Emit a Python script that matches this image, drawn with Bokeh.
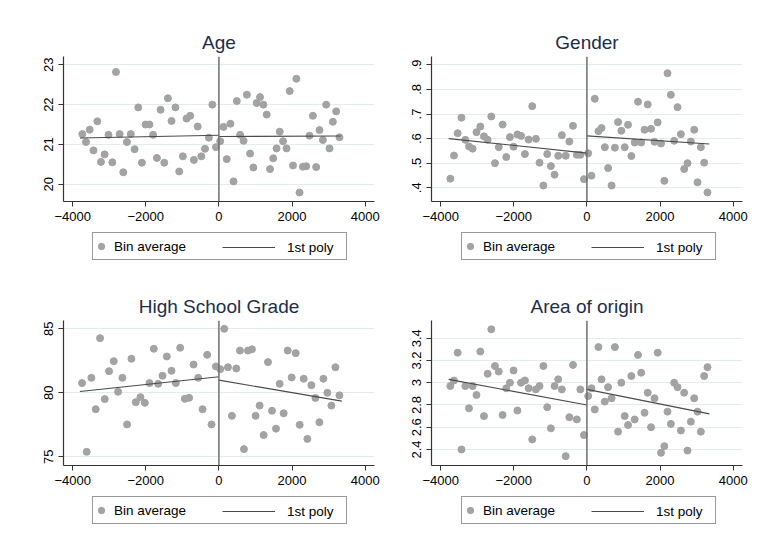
from bokeh.plotting import figure
from bokeh.models import Range1d, FixedTicker, Span, Legend, LegendItem
from bokeh.layouts import column, row
from bokeh.embed import file_html
from bokeh.resources import INLINE

FONT = "Liberation Sans"

# ---------------- data ----------------
x_ticks = [-4000, -2000, 0, 2000, 4000]

# bins shared by Age, Gender and Area of origin
bins_left_x = [-3735, -3635, -3535, -3430, -3325, -3225, -3125, -3020, -2915, -2815,
               -2715, -2615, -2515, -2410, -2305, -2205, -2105, -2005, -1900, -1800,
               -1695, -1595, -1495, -1395, -1295, -1190, -1085, -985, -885, -785,
               -685, -580, -480, -380, -275, -180, -80]
bins_right_x = [35, 125, 215, 315, 400, 490, 580, 675, 765, 852, 942, 1034, 1125, 1216,
                1307, 1398, 1485, 1576, 1663, 1754, 1849, 1936, 2027, 2118, 2205, 2296,
                2387, 2478, 2570, 2660, 2751, 2843, 2934, 3025, 3116, 3207, 3298]

# Age
age_left = [21.26, 21.06, 21.37, 20.85, 21.58, 20.56, 20.75, 21.24, 20.55, 22.82, 21.26,
            20.30, 21.06, 21.26, 20.88, 21.93, 20.54, 21.50, 21.50, 21.24, 20.66, 21.87,
            20.54, 22.16, 21.59, 21.93, 20.32, 20.70, 21.65, 21.72, 20.61, 21.45, 20.70,
            20.89, 21.17, 22.00, 20.93]
age_right = [21.08, 21.44, 20.63, 21.52, 20.07, 22.09, 21.24, 21.09, 22.25, 20.77, 20.42,
             22.04, 22.19, 22.00, 21.75, 20.38, 20.65, 20.90, 21.32, 21.08, 20.90, 22.34,
             20.47, 22.65, 19.79, 20.44, 20.45, 21.22, 21.72, 20.43, 21.36, 21.11, 22.00,
             20.90, 21.57, 21.83, 21.18]
age_fit_left_x, age_fit_left_y = [-3800, 0], [21.16, 21.23]
age_fit_right_x, age_fit_right_y = [0, 3330], [21.20, 21.21]
age_yticks = [20, 21, 22, 23]
age_ylabels = ["20", "21", "22", "23"]

# Gender
gender_left = [0.437, 0.531, 0.622, 0.685, 0.595, 0.568, 0.559, 0.626, 0.649, 0.609,
               0.595, 0.690, 0.500, 0.565, 0.657, 0.525, 0.606, 0.567, 0.617, 0.611,
               0.537, 0.596, 0.732, 0.599, 0.502, 0.409, 0.537, 0.488, 0.453, 0.530,
               0.614, 0.530, 0.588, 0.652, 0.534, 0.534, 0.435]
gender_right = [0.540, 0.449, 0.762, 0.630, 0.643, 0.565, 0.480, 0.409, 0.563, 0.667,
                0.632, 0.565, 0.656, 0.529, 0.584, 0.750, 0.584, 0.636, 0.739, 0.640,
                0.587, 0.666, 0.580, 0.428, 0.866, 0.778, 0.591, 0.728, 0.618, 0.476,
                0.500, 0.588, 0.636, 0.422, 0.565, 0.502, 0.381]
gender_fit_left_x, gender_fit_left_y = [-3780, 0], [0.600, 0.541]
gender_fit_right_x, gender_fit_right_y = [0, 3350], [0.611, 0.578]
gender_yticks = [0.4, 0.5, 0.6, 0.7, 0.8, 0.9]
gender_ylabels = [".4", ".5", ".6", ".7", ".8", ".9"]

# High School Grade (different binning)
hsg_left_x = [-3743, -3615, -3488, -3369, -3250, -3122, -3004, -2876, -2757, -2639, -2511,
              -2392, -2273, -2146, -2027, -1899, -1781, -1662, -1543, -1424, -1296, -1178,
              -1059, -931, -813, -694, -566, -447, -320, -201, -82]
hsg_left = [80.76, 75.39, 81.17, 78.72, 84.27, 79.51, 81.69, 82.47, 80.08, 81.17, 77.53,
            82.66, 79.27, 79.66, 79.22, 80.76, 83.44, 80.70, 81.33, 82.84, 81.72, 80.76,
            83.52, 79.53, 79.61, 82.21, 81.17, 78.72, 82.97, 77.53, 82.06]
hsg_right_x = [37, 146, 247, 356, 475, 575, 685, 794, 904, 1004, 1114, 1223, 1342, 1452,
               1561, 1662, 1771, 1881, 1990, 2100, 2209, 2319, 2419, 2529, 2639, 2748,
               2858, 2967, 3077, 3186, 3296]
hsg_right = [81.85, 85.0, 82.0, 78.2, 81.9, 83.3, 75.6, 83.3, 83.4, 78.2, 79.0, 76.7, 82.4,
             78.6, 77.2, 80.7, 78.4, 83.3, 81.2, 83.1, 77.5, 81.1, 76.4, 80.6, 79.6, 77.7,
             81.1, 80.0, 79.0, 82.0, 79.8]
hsg_fit_left_x, hsg_fit_left_y = [-3800, 0], [80.10, 81.25]
hsg_fit_right_x, hsg_fit_right_y = [0, 3360], [80.99, 79.35]
hsg_yticks = [75, 80, 85]
hsg_ylabels = ["75", "80", "85"]

# Area of origin
area_left = [2.97, 3.02, 3.27, 2.40, 2.97, 2.77, 2.97, 2.89, 3.28, 2.70, 3.08, 3.48, 3.15,
             3.10, 2.71, 2.95, 3.00, 3.11, 2.75, 3.00, 3.02, 2.95, 2.49, 2.94, 2.97, 3.15,
             2.78, 2.59, 2.97, 3.03, 2.94, 2.34, 2.69, 3.16, 2.67, 2.94, 2.53]
area_right = [2.88, 2.95, 2.76, 3.32, 3.03, 2.83, 2.96, 2.86, 3.32, 2.56, 3.00, 2.70, 2.62,
              3.06, 2.67, 3.25, 3.09, 2.73, 2.91, 2.60, 2.86, 3.27, 2.37, 2.43, 2.74, 2.63,
              3.00, 2.96, 2.57, 2.91, 2.39, 2.65, 2.86, 2.74, 2.56, 3.06, 3.14]
area_fit_left_x, area_fit_left_y = [-3780, 0], [3.03, 2.80]
area_fit_right_x, area_fit_right_y = [0, 3350], [2.94, 2.72]
area_yticks = [2.4, 2.6, 2.8, 3.0, 3.2, 3.4]
area_ylabels = ["2.4", "2.6", "2.8", "3", "3.2", "3.4"]

legend_labels = ["Bin average", "1st poly"]

# ---------------- styling ----------------
PT = "#a3a3a3"
LN = "#4a4a4a"
AX = "#333333"
GRID = "#e4ecf0"
TITLE = "#1c2e4a"


def make_plot(title, xs, ys, flx, fly, frx, fry, y_range, yticks, ylabels,
              width, height, bl, bt):
    p = figure(width=width, height=height, output_backend="svg", toolbar_location=None,
               x_range=Range1d(-4250, 4255), y_range=Range1d(*y_range),
               min_border_left=bl, min_border_right=14, min_border_top=bt,
               min_border_bottom=29, background_fill_color="white",
               border_fill_color="white")
    p.outline_line_color = None
    p.title.text = title
    p.title.align = "center"
    p.title.text_font = FONT
    p.title.text_font_size = "19px"
    p.title.text_font_style = "normal"
    p.title.text_color = TITLE
    p.title.standoff = 8

    p.xaxis.ticker = FixedTicker(ticks=x_ticks)
    p.yaxis.ticker = FixedTicker(ticks=yticks)
    p.yaxis.major_label_overrides = {t: l for t, l in zip(yticks, ylabels)}
    p.yaxis.major_label_orientation = "vertical"
    for ax in (p.xaxis, p.yaxis):
        ax.minor_tick_line_color = None
        ax.major_tick_in = 0
        ax.major_tick_out = 5
        ax.axis_line_color = AX
        ax.axis_line_width = 1.2
        ax.major_tick_line_color = AX
        ax.major_label_text_font = FONT
        ax.major_label_text_font_size = "13px"
        ax.major_label_text_color = "black"
        ax.major_label_standoff = 5
    p.xgrid.visible = False
    p.ygrid.ticker = FixedTicker(ticks=yticks)
    p.ygrid.grid_line_color = GRID
    p.ygrid.grid_line_width = 1

    p.add_layout(Span(location=0, dimension="height", line_color="#707070",
                      line_width=1.5))

    p.scatter(xs, ys, size=7, fill_color=PT, line_color=PT)
    p.line(flx, fly, line_color=LN, line_width=1.1)
    p.line(frx, fry, line_color=LN, line_width=1.1)
    return p


def make_legend(width, bl, box_left, xs, ys, fx, fy):
    f = figure(width=width, height=42, output_backend="svg", toolbar_location=None,
               title=None, x_axis_location=None, y_axis_location=None,
               min_border_left=bl, min_border_right=14, min_border_top=0,
               min_border_bottom=0, background_fill_color="white",
               border_fill_color="white")
    f.grid.visible = False
    f.outline_line_color = None
    # legend keys: hidden copies of the panel's renderers
    key_pts = f.scatter(xs, ys, size=7, fill_color=PT, line_color=PT, visible=False)
    key_ln = f.line(fx, fy, line_color=LN, line_width=1.1, visible=False)
    leg_a = Legend(items=[LegendItem(label=legend_labels[0], renderers=[key_pts])],
                   location=(box_left, 12), orientation="horizontal", padding=0, margin=0,
                   glyph_width=16, glyph_height=26, label_height=26, label_standoff=5,
                   label_width=232, border_line_color=AX, border_line_width=1,
                   background_fill_color="white", background_fill_alpha=1.0,
                   label_text_font=FONT, label_text_font_size="13.5px",
                   label_text_color="black")
    leg_b = Legend(items=[LegendItem(label=legend_labels[1], renderers=[key_ln])],
                   location=(box_left + 130, 12), orientation="horizontal", padding=0,
                   margin=0, glyph_width=53, glyph_height=26, label_height=26,
                   label_standoff=12, border_line_alpha=0, background_fill_alpha=0,
                   label_text_font=FONT, label_text_font_size="13.5px",
                   label_text_color="black")
    f.add_layout(leg_a)
    f.add_layout(leg_b)
    return f


age_x = bins_left_x + bins_right_x
p1 = make_plot("Age", age_x, age_left + age_right,
               age_fit_left_x, age_fit_left_y, age_fit_right_x, age_fit_right_y,
               (19.565, 23.21), age_yticks, age_ylabels, 388, 230, 63, 56)
l1 = make_legend(388, 63, 29, age_x, age_left + age_right, age_fit_left_x, age_fit_left_y)

p2 = make_plot("Gender", age_x, gender_left + gender_right,
               gender_fit_left_x, gender_fit_left_y, gender_fit_right_x, gender_fit_right_y,
               (0.344, 0.934), gender_yticks, gender_ylabels, 368, 230, 43, 56)
l2 = make_legend(368, 43, 30, age_x, gender_left + gender_right,
                 gender_fit_left_x, gender_fit_left_y)

hsg_x = hsg_left_x + hsg_right_x
p3 = make_plot("High School Grade", hsg_x, hsg_left + hsg_right,
               hsg_fit_left_x, hsg_fit_left_y, hsg_fit_right_x, hsg_fit_right_y,
               (74.32, 85.65), hsg_yticks, hsg_ylabels, 388, 222, 63, 48)
l3 = make_legend(388, 63, 29, hsg_x, hsg_left + hsg_right, hsg_fit_left_x, hsg_fit_left_y)

p4 = make_plot("Area of origin", age_x, area_left + area_right,
               area_fit_left_x, area_fit_left_y, area_fit_right_x, area_fit_right_y,
               (2.256, 3.559), area_yticks, area_ylabels, 368, 222, 43, 48)
l4 = make_legend(368, 43, 30, age_x, area_left + area_right,
                 area_fit_left_x, area_fit_left_y)

layout = column(row(column(p1, l1), column(p2, l2)),
                row(column(p3, l3), column(p4, l4)))
open("out.html", "w").write(file_html(layout, INLINE))
